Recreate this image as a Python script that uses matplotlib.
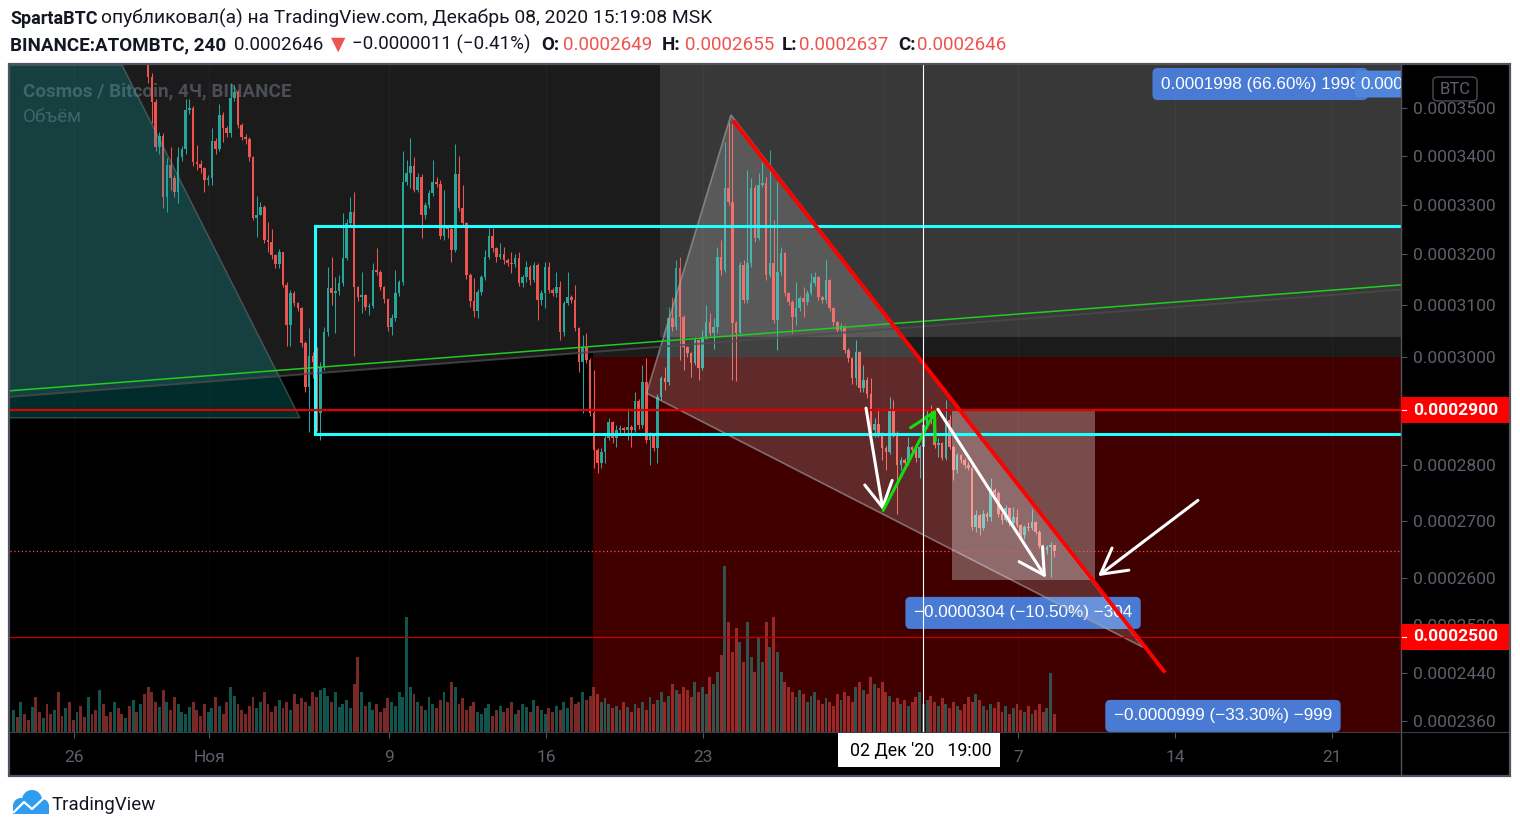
import numpy as np
import pandas as pd
import matplotlib
matplotlib.use('Agg')
import matplotlib.pyplot as plt
import matplotlib.dates as mdates
from matplotlib.patches import Rectangle, Polygon, Circle, FancyBboxPatch
from matplotlib.lines import Line2D
from matplotlib.transforms import blended_transform_factory, IdentityTransform

plt.rcParams['font.family'] = ['Roboto', 'DejaVu Sans']

W, H = 1520, 831

### Dati: candele 4h ATOMBTC (prezzi in 1e-7 BTC), volumi (unita' arbitrarie)
primo_open = 3890
closes = [
    3905, 3880, 3920, 3870, 3850, 3890, 3860, 3830, 3845, 3810, 3790, 3820,
    3800, 3760, 3780, 3750, 3735, 3770, 3740, 3715, 3730, 3700, 3690, 3720,
    3705, 3680, 3660, 3690, 3670, 3650, 3665, 3640, 3655, 3630, 3645, 3620,
    3567, 3514, 3418, 3441, 3315, 3381, 3354, 3325, 3397, 3414,
    3496, 3500, 3387, 3383, 3375, 3350, 3354, 3431, 3414, 3486,
    3459, 3448, 3522, 3535, 3465, 3439, 3435, 3397, 3272, 3278,
    3295, 3228, 3224, 3198, 3180, 3204, 3139, 3061, 3124, 3104,
    3094, 3026, 2943, 3002, 2990, 2895, 2981, 3048, 3133, 3124,
    3128, 3143, 3192, 3262, 3284, 3135, 3116, 3120, 3096, 3098,
    3168, 3165, 3135, 3112, 3057, 3075, 3124, 3145, 3346, 3364,
    3379, 3330, 3356, 3278, 3299, 3323, 3346, 3342, 3236, 3252,
    3250, 3208, 3362, 3293, 3262, 3159, 3108, 3088, 3126, 3155,
    3194, 3236, 3212, 3194, 3200, 3188, 3182, 3180, 3192, 3143,
    3155, 3174, 3149, 3178, 3110, 3124, 3174, 3130, 3124, 3135,
    3048, 3104, 3116, 3110, 3055, 2990, 3019, 2994, 2895, 2826,
    2804, 2823, 2849, 2878, 2849, 2863, 2867, 2863, 2869, 2863,
    2917, 2872, 2952, 2845, 2854, 2830, 2925, 2960, 2952, 3075,
    3057, 3172, 3077, 3019, 3007, 2988, 3032, 2979, 3038, 3067,
    3046, 3057, 3194, 3168, 3334, 3305, 3065, 3046, 3178, 3110,
    3182, 3334, 3232, 3340, 3344, 3159, 3182, 3071, 3165, 3202,
    3124, 3106, 3077, 3094, 3114, 3106, 3124, 3143, 3155, 3116,
    3110, 3149, 3094, 3067, 3052, 3059, 3013, 2998, 2960, 3009,
    2941, 2956, 2930, 2863, 2875, 2858, 2830, 2823, 2900, 2858,
    2799, 2808, 2803, 2832, 2826, 2812, 2832, 2872, 2891, 2882, 2836, 2840,
    2812, 2882, 2832, 2790, 2817, 2808, 2799, 2795, 2689, 2710,
    2687, 2712, 2706, 2754, 2749, 2712, 2701, 2722, 2696, 2706,
    2692, 2674, 2689, 2687, 2697, 2680, 2656, 2648, 2653, 2657, 2646,
]
highs = [
    3930, 3915, 3940, 3925, 3880, 3905, 3895, 3865, 3860, 3850, 3815, 3835,
    3830, 3805, 3795, 3785, 3760, 3785, 3775, 3745, 3745, 3735, 3710, 3735,
    3725, 3710, 3685, 3700, 3695, 3675, 3680, 3670, 3665, 3660, 3655, 3650,
    3640, 3575, 3520, 3450, 3448, 3395, 3418, 3360, 3418, 3420,
    3520, 3520, 3505, 3422, 3392, 3377, 3360, 3458, 3437, 3509,
    3492, 3462, 3554, 3550, 3540, 3470, 3445, 3440, 3400, 3317,
    3305, 3300, 3264, 3250, 3200, 3210, 3205, 3145, 3130, 3128,
    3106, 3096, 3030, 3055, 3010, 3020, 2990, 3058, 3174, 3194,
    3155, 3159, 3282, 3270, 3315, 3325, 3138, 3165, 3122, 3105,
    3182, 3212, 3168, 3138, 3112, 3082, 3168, 3150, 3410, 3391,
    3437, 3397, 3365, 3362, 3305, 3330, 3391, 3356, 3350, 3330,
    3258, 3255, 3425, 3401, 3340, 3264, 3162, 3153, 3132, 3160,
    3208, 3252, 3252, 3215, 3222, 3214, 3192, 3204, 3200, 3204,
    3160, 3186, 3178, 3184, 3182, 3130, 3184, 3184, 3134, 3165,
    3148, 3108, 3165, 3120, 3139, 3058, 3042, 3046, 2998, 2975,
    2830, 2830, 2856, 2885, 2880, 2872, 2872, 2870, 2904, 2872,
    2934, 2921, 2985, 2999, 2860, 2855, 2930, 2965, 2981, 3096,
    3116, 3188, 3194, 3080, 3022, 3010, 3038, 3035, 3052, 3100,
    3085, 3075, 3214, 3228, 3429, 3470, 3468, 3070, 3185, 3188,
    3370, 3354, 3340, 3364, 3387, 3356, 3412, 3268, 3346, 3215,
    3205, 3126, 3110, 3145, 3118, 3135, 3130, 3163, 3165, 3158,
    3118, 3188, 3152, 3096, 3070, 3065, 3062, 3018, 3000, 3032,
    3012, 2985, 2962, 2960, 2885, 2904, 2860, 2835, 2925, 2919,
    2862, 2815, 2812, 2851, 2835, 2830, 2836, 2876, 2900, 2910, 2885, 2849,
    2842, 2919, 2891, 2836, 2822, 2820, 2812, 2805, 2799, 2718,
    2712, 2718, 2715, 2777, 2758, 2752, 2715, 2727, 2724, 2724,
    2720, 2694, 2692, 2697, 2720, 2700, 2683, 2658, 2657, 2662, 2655,
]
lows = [
    3870, 3865, 3870, 3860, 3835, 3845, 3850, 3815, 3820, 3800, 3775, 3780,
    3790, 3745, 3750, 3740, 3720, 3730, 3730, 3705, 3705, 3690, 3675, 3685,
    3695, 3670, 3650, 3655, 3660, 3640, 3645, 3630, 3635, 3620, 3625, 3605,
    3555, 3469, 3410, 3405, 3293, 3285, 3330, 3315, 3303, 3390,
    3405, 3488, 3380, 3370, 3365, 3325, 3340, 3340, 3405, 3410,
    3429, 3440, 3440, 3515, 3458, 3433, 3425, 3390, 3268, 3234,
    3278, 3222, 3204, 3190, 3172, 3172, 3135, 3022, 3022, 3098,
    3088, 3020, 2934, 2860, 2960, 2862, 2845, 2975, 3040, 3100,
    3046, 3120, 3138, 3188, 3255, 3003, 3108, 3085, 3090, 3080,
    3094, 3160, 3130, 3105, 3050, 3042, 3070, 3118, 3140, 3340,
    3334, 3325, 3325, 3232, 3270, 3293, 3318, 3335, 3230, 3228,
    3232, 3184, 3205, 3288, 3255, 3152, 3096, 3077, 3075, 3120,
    3150, 3190, 3205, 3185, 3190, 3180, 3176, 3163, 3175, 3138,
    3136, 3145, 3140, 3145, 3071, 3100, 3094, 3124, 3118, 3115,
    3032, 3040, 3100, 3104, 3050, 2971, 2895, 2988, 2890, 2795,
    2786, 2795, 2804, 2845, 2840, 2832, 2855, 2858, 2845, 2832,
    2860, 2865, 2868, 2840, 2799, 2825, 2804, 2920, 2937, 2948,
    3050, 3052, 2994, 2975, 3000, 2962, 2985, 2956, 2975, 3035,
    3040, 3016, 3046, 3160, 3165, 3300, 2956, 2954, 3040, 3105,
    3105, 3175, 3225, 3228, 3335, 3150, 3155, 3065, 3013, 3160,
    3118, 3100, 3046, 3061, 3088, 3077, 3100, 3120, 3138, 3110,
    3104, 3105, 3088, 3060, 3046, 3046, 3008, 2990, 2950, 2947,
    2935, 2935, 2922, 2845, 2850, 2850, 2808, 2790, 2820, 2850,
    2712, 2790, 2795, 2800, 2820, 2805, 2777, 2828, 2868, 2875, 2830, 2814,
    2808, 2808, 2828, 2772, 2786, 2803, 2794, 2790, 2683, 2680,
    2674, 2683, 2700, 2700, 2744, 2706, 2694, 2698, 2690, 2692,
    2688, 2670, 2668, 2682, 2684, 2676, 2652, 2636, 2642, 2601, 2637,
]
volumi = [
    22, 15, 30, 18, 12, 25, 35, 20, 14, 28, 18, 22, 40, 16, 24, 30, 12, 20,
    26, 15, 35, 18, 22, 42, 28, 16, 20, 30, 24, 18, 14, 26, 32, 20, 28, 38,
    45, 40, 30, 25, 42, 30, 22, 35, 28, 20, 18, 25, 30, 22, 16, 28, 20, 24,
    35, 26, 18, 30, 45, 36, 28, 22, 18, 26, 35, 24, 30, 40, 28, 20, 26, 32,
    24, 30, 22, 38, 28, 34, 30, 26, 40, 35, 42, 44, 36, 30, 40, 25, 28, 32,
    24, 48, 75, 40, 26, 30, 22, 28, 20, 24, 34, 30, 26, 40, 35, 115, 45, 38,
    30, 26, 22, 35, 28, 24, 32, 40, 30, 50, 45, 28, 34, 22, 26, 30, 20, 18,
    24, 28, 16, 22, 26, 20, 24, 30, 18, 22, 28, 25, 20, 32, 26, 22, 18, 24,
    20, 26, 22, 30, 24, 35, 28, 30, 40, 32, 36, 45, 38, 30, 34, 28, 24, 26,
    22, 30, 25, 20, 28, 24, 30, 22, 35, 28, 32, 40, 30, 36, 48, 42, 38, 45,
    42, 35, 50, 40, 45, 38, 55, 48, 60, 77, 166, 110, 80, 104, 90, 70, 110, 75,
    60, 95, 70, 110, 85, 115, 80, 60, 50, 45, 40, 35, 42, 38, 30, 36, 40, 32,
    28, 34, 30, 26, 38, 32, 40, 36, 30, 45, 50, 42, 38, 55, 48, 44, 50, 40,
    36, 30, 34, 28, 32, 26, 30, 35, 40, 28, 32, 36, 30, 26, 34, 28, 24, 30,
    26, 22, 28, 35, 30, 38, 32, 26, 22, 28, 24, 30, 20, 26, 18, 24, 28, 22,
    20, 26, 18, 22, 28, 20, 24, 59, 18,
]
assert len(closes) == len(highs) == len(lows) == len(volumi), (len(closes), len(highs), len(lows), len(volumi))

tempi = pd.date_range('2020-10-23 07:00', periods=len(closes), freq='4h')

# il tick del 1 dicembre ("Дек") e' coperto dall'etichetta del crosshair
tick_date = ['2020-10-26', '2020-11-01', '2020-11-09', '2020-11-16', '2020-11-23',
             '2020-12-01', '2020-12-07', '2020-12-14', '2020-12-21']
tick_testi = ['26', 'Ноя', '9', '16', '23', '', '7', '14', '21']
tick_prezzi = [0.00035, 0.00034, 0.00033, 0.00032, 0.00031, 0.00030,
               0.00028, 0.00027, 0.00026, 0.000252, 0.000244, 0.000236]

# %%
### Parametri
col_up = '#26a69a'
col_down = '#ef5350'
offset_log = 1.3e-4          # scala "log" di TradingView: log(p + offset)
lim_y = (0.0002343, 0.0003593)

def T(s):
    return mdates.date2num(pd.Timestamp(s))

def fx(px):
    return px / W

def fy(py):
    return 1 - py / H

x = mdates.date2num(tempi)
c = np.array(closes) * 1e-7
h = np.array(highs) * 1e-7
l = np.array(lows) * 1e-7
o = np.concatenate([[primo_open * 1e-7], c[:-1]])
up = c >= o
colori = np.where(up, col_up, col_down)
h = np.maximum(h, np.maximum(o, c))
l = np.minimum(l, np.minimum(o, c))

fig = plt.figure(figsize=(W / 100, H / 100), dpi=100)
fig.patch.set_facecolor('white')
fig.patches.append(Rectangle((fx(10), fy(775)), 1499 / W, 710 / H, transform=fig.transFigure,
                             fc='black', ec='none', zorder=-2))

ax = fig.add_axes([fx(10), fy(732), 1391 / W, 667 / H])
ax.set_facecolor('black')
for s in ax.spines.values():
    s.set_visible(False)
ax.set_yscale('function', functions=(lambda p: np.log(np.maximum(p + offset_log, 1e-9)),
                                     lambda v: np.exp(v) - offset_log))
xl, xr = T('2020-10-23 03:27'), T('2020-12-24 01:10')
top_ext = 0.00040

### sfondi
ax.add_patch(Polygon([(xl - 2, top_ext), (xr + 2, top_ext), (xr + 2, 0.0003), (T('2020-11-18 02:10'), 0.0003),
                      (T('2020-11-18 02:10'), 0.00030095), (xl, 0.0002925)], closed=True,
                     fc='#1b1b1b', ec='none', zorder=0.1))
ax.add_patch(Rectangle((T('2020-11-21 01:40'), 0.0003038), 60, top_ext - 0.0003038,
                       fc='#383838', ec='none', zorder=0.2))
ax.add_patch(Rectangle((T('2020-11-18 02:10'), 0.0002), 60, 0.0001,
                       fc='#400000', ec='none', zorder=0.2))
ax.grid(axis='x', color='white', alpha=0.03, lw=1, zorder=0.3)

ax.text(fx(23 - 10) / (1391 / W), 1 - (91 - 65) / 667, 'Cosmos / Bitcoin, 4Ч, BINANCE', transform=ax.transAxes,
        fontsize=13.6, fontweight='bold', color='#4b4e56', va='center', ha='left', zorder=0.5)
ax.text(fx(23 - 10) / (1391 / W), 1 - (117 - 65) / 667, 'Объём', transform=ax.transAxes,
        fontsize=13.6, color='#4b4e56', va='center', ha='left', zorder=0.5)

### volumi
blend = blended_transform_factory(ax.transData, ax.transAxes)
vcol = [(38 / 255, 166 / 255, 154 / 255, 0.5) if u else (239 / 255, 83 / 255, 80 / 255, 0.5) for u in up]
ax.bar(x, np.array(volumi) / 667, width=0.13, bottom=0, color=vcol, transform=blend, zorder=1, linewidth=0)

### candele
ax.vlines(x, l, h, colors=colori, lw=0.75, zorder=2)
ax.bar(x, np.maximum(np.abs(c - o), 2e-7), bottom=np.minimum(o, c), width=0.115, color=colori,
       linewidth=0, zorder=2.1)

### disegni
ax.add_patch(Polygon([(xl - 2, lim_y[1]), (T('2020-10-28 03:07'), lim_y[1]),
                      (T('2020-11-05 01:10'), 0.0002886), (xl - 2, 0.0002886)], closed=True,
                     fc=(8 / 255, 176 / 255, 176 / 255, 0.25), ec=(0.6, 0.65, 0.65, 0.35), lw=1, zorder=3))

etichetta = dict(fontsize=12.3, color='white', family=['Liberation Sans', 'DejaVu Sans'])
ax.text(T('2020-12-07 05:30'), 0.000254, '−0.0000304 (−10.50%) −304', ha='center', va='center', zorder=2.5,
        bbox=dict(boxstyle='round,pad=0.5,rounding_size=0.3', fc='#4a7bd4', ec='none'), **etichetta)
ax.text(T('2020-12-16 03:00'), 0.0002369, '−0.0000999 (−33.30%) −999', ha='center', va='center', zorder=5,
        bbox=dict(boxstyle='round,pad=0.5,rounding_size=0.3', fc='#4a7bd4', ec='none'), **etichetta)
ax.text(T('2020-12-13 08:50'), 0.0003552, '0.0001998 (66.60%) 1998', ha='left', va='center', zorder=5,
        clip_on=True, bbox=dict(boxstyle='round,pad=0.5,rounding_size=0.3', fc='#4a7bd4', ec='none'),
        **etichetta)
ax.text(T('2020-12-22 06:00'), 0.0003552, '0.0004998', ha='left', va='center', zorder=5.1, clip_on=True,
        bbox=dict(boxstyle='round,pad=0.35,rounding_size=0.3', fc='#4f86dc', ec='none'), **etichetta)

ax.add_patch(Polygon([(T('2020-11-20 11:20'), 0.0002932), (T('2020-11-24 05:30'), 0.0003486),
                      (T('2020-12-12 13:40'), 0.0002482)], closed=True,
                     fc=(1, 1, 1, 0.17), ec=(0.65, 0.65, 0.65, 0.6), lw=1.2, zorder=3))
ax.add_patch(Rectangle((T('2020-12-04 01:40'), 0.0002596), T('2020-12-10 10:20') - T('2020-12-04 01:40'),
                       0.00029 - 0.0002596, fc=(1, 1, 1, 0.3), ec='none', zorder=3))

ax.axline((T('2020-11-05 01:10'), 0.0002967), (T('2020-12-19 13:10'), 0.0003115),
          color='#4a4a4a', lw=1.4, alpha=0.8, zorder=3.5)
ax.axline((T('2020-11-05 01:10'), 0.0002978), (T('2020-12-19 13:10'), 0.00031245),
          color='#22cc22', lw=1.1, zorder=3.6)

ax.plot([T('2020-11-05 17:15'), xr + 2, xr + 2, T('2020-11-05 17:15'), T('2020-11-05 17:15')],
        [0.0003256, 0.0003256, 0.0002857, 0.0002857, 0.0003256], color='#22ffff', lw=2.2, zorder=4,
        solid_joinstyle='miter')
ax.axhline(0.00029, color='#e00000', lw=1.6, zorder=4)
ax.axhline(0.00025, color='#c00000', lw=0.9, zorder=4)
ax.axhline(0.0002646, color='#ef5350', lw=0.9, ls=(0, (1, 2)), zorder=4)

ax.plot([T('2020-11-24 08:00'), T('2020-12-13 13:10')], [0.0003474, 0.000244], color='#ff0000', lw=2.8,
        zorder=6, solid_capstyle='butt')

frecce = [
    ((T('2020-11-30 05:45'), 0.0002904), (T('2020-12-01 00:00'), 0.0002718), 'white'),
    ((T('2020-12-01 00:00'), 0.0002718), (T('2020-12-03 08:25'), 0.0002902), '#11dd11'),
    ((T('2020-12-03 10:30'), 0.0002902), (T('2020-12-08 06:00'), 0.00026), 'white'),
    ((T('2020-12-15 00:15'), 0.0002736), (T('2020-12-10 13:30'), 0.0002603), 'white'),
]
for coda, punta, colore in frecce:
    ax.annotate('', xy=punta, xytext=coda, zorder=6,
                arrowprops=dict(arrowstyle='->,head_length=0.9,head_width=0.5', color=colore, lw=2.2,
                                mutation_scale=20, shrinkA=0, shrinkB=0))

x_cross = T('2020-12-02 19:00')
ax.axvline(x_cross, color='white', lw=0.8, zorder=7)

ax.set_xlim(xl, xr)
ax.set_ylim(*lim_y)

### assi
ax.set_xticks([T(d) for d in tick_date])
ax.set_xticklabels(tick_testi)
ax.yaxis.tick_right()
ax.set_yticks(tick_prezzi)
ax.set_yticklabels([f'{p:.7f}' for p in tick_prezzi])
ax.yaxis.set_minor_locator(matplotlib.ticker.NullLocator())
ax.tick_params(axis='y', colors='#50535e', labelcolor='#5d606b', labelsize=12.5, length=4, width=0.8,
               pad=5, direction='out')
ax.tick_params(axis='x', colors='#50535e', labelcolor='#5d606b', labelsize=12.5, length=4, width=0.8,
               pad=9, direction='out')

# cornici
fig.add_artist(Line2D([fx(1401), fx(1401)], [fy(65), fy(775)], color='#50535e', lw=1, transform=fig.transFigure))
fig.add_artist(Line2D([fx(10), fx(1509)], [fy(732), fy(732)], color='#3a3d46', lw=0.8, transform=fig.transFigure))
fig.patches.append(Rectangle((fx(9), fy(776)), 1501 / W, 712 / H, transform=fig.transFigure, fill=False,
                             ec='#50535e', lw=1.6, zorder=8))

# etichette di prezzo rosse
for prezzo in [0.00029, 0.00025]:
    yd = ax.transData.transform((xl, prezzo))[1]
    fig.patches.append(Rectangle((fx(1401), (yd - 13) / H), 108 / W, 26 / H, transform=fig.transFigure,
                                 fc='#ff0000', ec='none', zorder=5))
    fig.add_artist(Line2D([fx(1402), fx(1406)], [yd / H, yd / H], color='white', lw=0.8,
                          transform=fig.transFigure, zorder=6))
    fig.text(fx(1413), yd / H, f'{prezzo:.7f}', color='white', fontsize=12.5, fontweight='bold',
             va='center', ha='left', zorder=6)

fig.patches.append(FancyBboxPatch((fx(1433), fy(101)), 44 / W, 24 / H, boxstyle='round,pad=0,rounding_size=0.004',
                                  transform=fig.transFigure, fc='black', ec='#4a4d57', lw=1, zorder=5))
fig.text(fx(1455), fy(89), 'BTC', color='#5d606b', fontsize=12, ha='center', va='center', zorder=6)

# etichetta del crosshair
fig.patches.append(Rectangle((fx(838), fy(767)), 162 / W, 34 / H, transform=fig.transFigure,
                             fc='white', ec='none', zorder=5))
fig.text(fx(921), fy(751), "02 Дек '20   19:00", color='black', fontsize=12.8, ha='center', va='center', zorder=6)

### intestazione
nero = '#131722'
rosso = '#ef5350'
fig.text(fx(10), fy(24), 'SpartaBTC', fontsize=13, fontweight='bold', color=nero, va='baseline')
fig.text(fx(101), fy(24), 'опубликовал(а) на TradingView.com, Декабрь 08, 2020 15:19:08 MSK',
         fontsize=13.9, color=nero, va='baseline')
riga2 = [
    (10, 'BINANCE:ATOMBTC, 240', 'bold', nero),
    (234, '0.0002646', 'normal', nero),
    (331, '▼', 'normal', rosso),
    (352, '−0.0000011 (−0.41%)', 'normal', nero),
    (541, 'O:', 'bold', nero),
    (563, '0.0002649', 'normal', rosso),
    (662, 'H:', 'bold', nero),
    (685, '0.0002655', 'normal', rosso),
    (782, 'L:', 'bold', nero),
    (799, '0.0002637', 'normal', rosso),
    (898, 'C:', 'bold', nero),
    (917, '0.0002646', 'normal', rosso),
]
for px, testo, peso, colore in riga2:
    fig.text(fx(px), fy(50), testo, fontsize=13.5, fontweight=peso, color=colore, va='baseline')

### logo TradingView
idt = IdentityTransform()
for (cx, cy, r) in [(21, 806, 8), (32, 800, 10), (42, 806, 7)]:
    fig.patches.append(Circle((cx, H - cy), r, transform=idt, fc='#2f9cf0', ec='none'))
fig.patches.append(Rectangle((13, H - 814), 36, 8, transform=idt, fc='#2f9cf0', ec='none'))
fig.add_artist(Line2D([14, 24, 32, 45], [H - 812, H - 802, H - 809, H - 797], transform=idt,
                      color='white', lw=1.6))
fig.text(fx(52), fy(810), 'TradingView', fontsize=13.5, color=nero, va='baseline')

plt.savefig('out.png', dpi=100, facecolor='white')
plt.close()
